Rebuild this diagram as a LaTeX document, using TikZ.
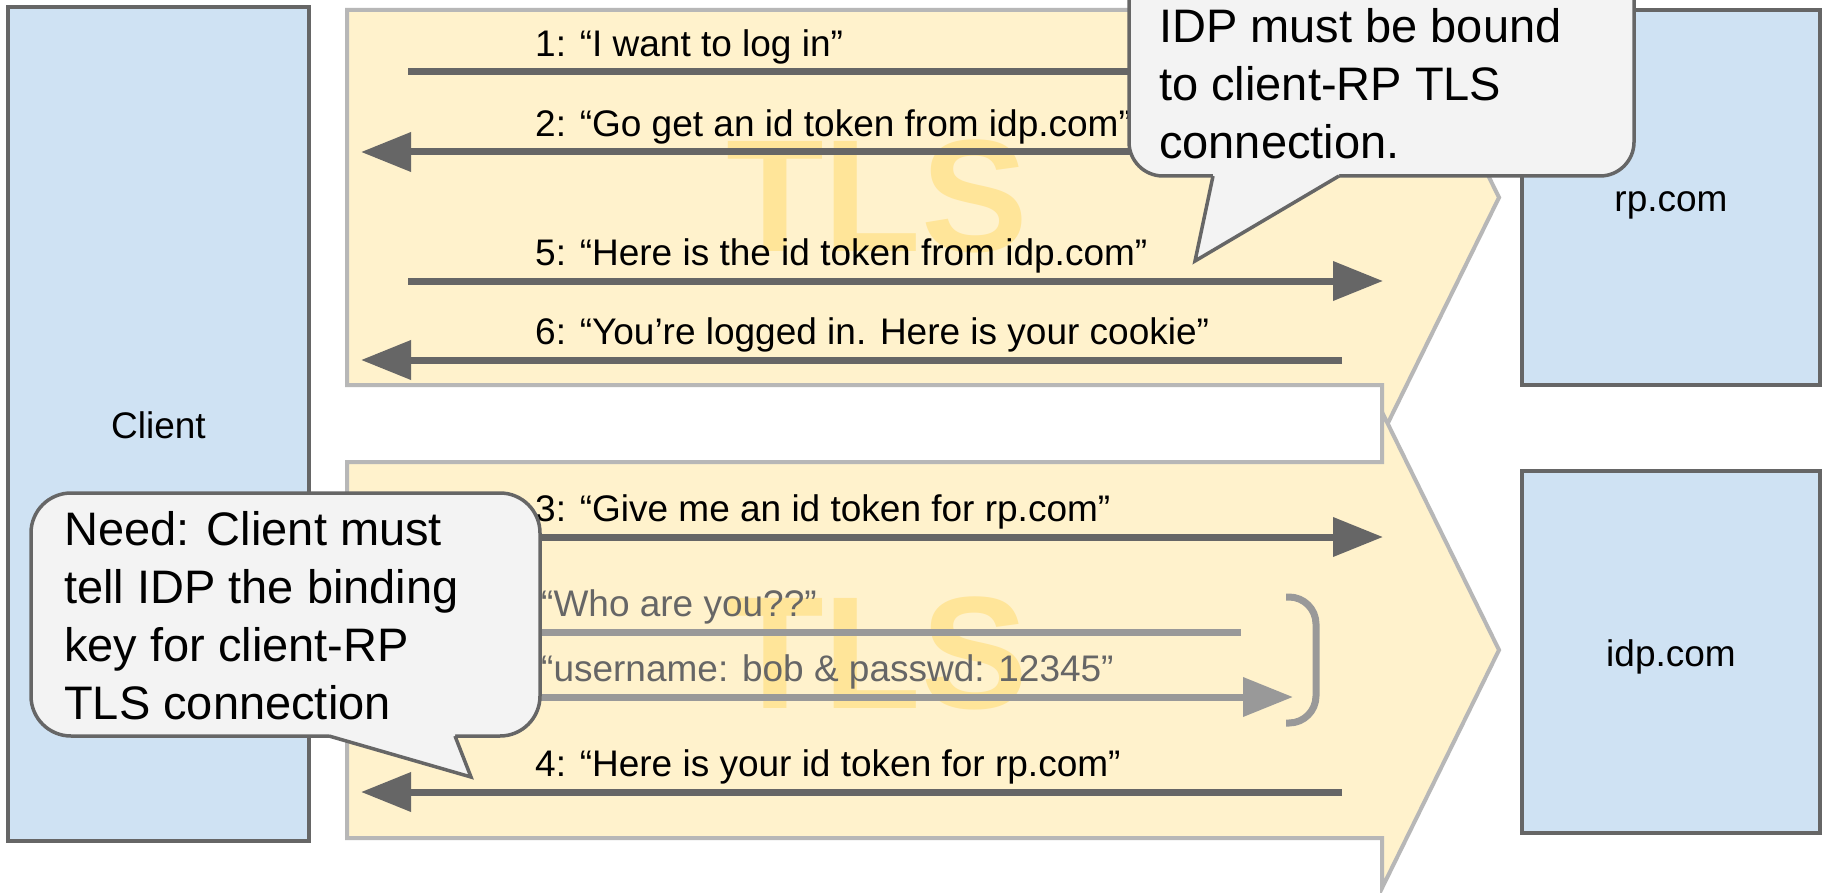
\documentclass[tikz,border=0pt]{standalone}
\usepackage{fontspec}
\setmainfont{Liberation Sans}
\usetikzlibrary{arrows.meta}

\definecolor{boxfill}{HTML}{CFE2F3}
\definecolor{boxline}{HTML}{666666}
\definecolor{tlsfill}{HTML}{FFF2CC}
\definecolor{tlsline}{HTML}{B7B7B7}
\definecolor{tlsletter}{HTML}{FFE599}
\definecolor{msgdark}{HTML}{666666}
\definecolor{msglight}{HTML}{999999}
\definecolor{notefill}{HTML}{F3F3F3}
\definecolor{noteline}{HTML}{666666}

\tikzset{
  server/.style={draw=boxline, fill=boxfill, line width=3.5pt, inner sep=0pt,
    text height=28pt, text depth=0pt, font=\fontsize{37}{44}\selectfont},
  tunnel/.style={draw=tlsline, fill=tlsfill, line width=4pt, line join=miter},
  tlsword/.style={text=tlsletter, inner sep=0pt, anchor=base west,
    font=\fontsize{160}{160}\selectfont\bfseries},
  msglabel/.style={inner sep=0pt, anchor=base west, font=\fontsize{37}{44}\selectfont},
  faintlabel/.style={msglabel, text=msgdark},
  msgline/.style={draw=msgdark, line width=7pt},
  msgarrow/.style={msgline, -{Triangle[length=50pt,width=38pt]}},
  faintline/.style={draw=msglight, line width=7pt},
  faintarrow/.style={faintline, -{Triangle[length=50pt,width=38pt]}},
  notebody/.style={draw=noteline, fill=notefill, line width=3.5pt, inner sep=0pt},
  notetext/.style={inner sep=0pt, anchor=base west, font=\fontsize{47}{58}\selectfont},
}

\begin{document}
\begin{tikzpicture}[x=1pt, y=-1pt]
\useasboundingbox (0,0) rectangle (1822,893);
\clip (0,0) rectangle (1822,893);
\fill[white] (0,0) rectangle (1822,893);

% parties
\node[server, minimum width=301pt, minimum height=834pt] (client) at (158.5,424) {Client};
\node[server, minimum width=298pt, minimum height=375pt] (rp) at (1671,197.5) {rp.com};
\node[server, minimum width=298pt, minimum height=362pt] (idp) at (1671,652) {idp.com};

% TLS tunnels (client-RP above, client-IDP below)
\draw[tunnel] (347,10) -- (1382,10) -- (1382,-40) -- (1499,197.5) -- (1382,435)
  -- (1382,385) -- (347,385) -- cycle;
\draw[tunnel] (347,462) -- (1382,462) -- (1382,412) -- (1499,650) -- (1382,888)
  -- (1382,838) -- (347,838) -- cycle;
\node[tlsword] (tlsrp) at (726,252) {TLS};
\node[tlsword] (tlsidp) at (726,708) {TLS};

% message end points
\coordinate (m1s) at (408,72);   \coordinate (m1e) at (1383,72);
\coordinate (m2s) at (1342,152); \coordinate (m2e) at (361,152);
\coordinate (m5s) at (408,281);  \coordinate (m5e) at (1383,281);
\coordinate (m6s) at (1342,360); \coordinate (m6e) at (361,360);
\coordinate (m3s) at (408,537);  \coordinate (m3e) at (1383,537);
\coordinate (mws) at (408,632);  \coordinate (mwe) at (1241,632);
\coordinate (mus) at (408,697);  \coordinate (mue) at (1293,697);
\coordinate (m4s) at (1342,792); \coordinate (m4e) at (361,792);

% client <-> rp.com
\draw[msgarrow] (m1s) -- (m1e);
\draw[msgarrow] (m2s) -- (m2e);
\draw[msgarrow] (m5s) -- (m5e);
\draw[msgarrow] (m6s) -- (m6e);
\node[msglabel] (l1) at (535,56.5) {1: “I want to log in”};
\node[msglabel] (l2) at (535,136.5) {2: “Go get an id token from idp.com”};
\node[msglabel] (l5) at (535,265.5) {5: “Here is the id token from idp.com”};
\node[msglabel] (l6) at (535,344.5) {6: “You’re logged in. Here is your cookie”};

% client <-> idp.com
\draw[msgarrow] (m3s) -- (m3e);
\draw[faintline] (mws) -- (mwe);
\draw[faintarrow] (mus) -- (mue);
\draw[msgarrow] (m4s) -- (m4e);
\node[msglabel] (l3) at (535,521.5) {3: “Give me an id token for rp.com”};
\node[faintlabel] (lw) at (541,616.5) {“Who are you??”};
\node[faintlabel] (lu) at (541,681.5) {“username: bob \& passwd: 12345”};
\node[msglabel] (l4) at (535,776.5) {4: “Here is your id token for rp.com”};

% bracket grouping the login exchange
\coordinate (bt) at (1286,597);
\coordinate (bb) at (1286,723);
\draw[faintline, rounded corners=27pt] (bt) -- (1316,597) -- (1316,723) -- (bb);

% note on the client-RP tunnel
\node[notebody, rounded corners=34pt, minimum width=505pt, minimum height=216pt] (note1) at (1381.5,68) {};
\fill[notefill] (1213,172) -- (1213,176) -- (1195,261) -- (1339,176) -- (1339,172) -- cycle;
\draw[draw=noteline, line width=3.5pt, line join=miter] (1213,176) -- (1195,261) -- (1339,176);
\node[notetext] (note1text) at (1159,43) {\begin{tabular}[t]{@{}l@{}}IDP must be bound\\ to client-RP TLS\\ connection.\end{tabular}};

% note on the client-IDP tunnel
\node[notebody, rounded corners=40pt, minimum width=509pt, minimum height=243pt] (note2) at (285.5,614.5) {};
\fill[notefill] (329,732) -- (329,736) -- (471,777) -- (455,736) -- (455,732) -- cycle;
\draw[draw=noteline, line width=3.5pt, line join=miter] (329,736) -- (471,777) -- (455,736);
\node[notetext] (note2text) at (64,545) {\begin{tabular}[t]{@{}l@{}}Need: Client must\\ tell IDP the binding\\ key for client-RP\\ TLS connection\end{tabular}};
\end{tikzpicture}
\end{document}
